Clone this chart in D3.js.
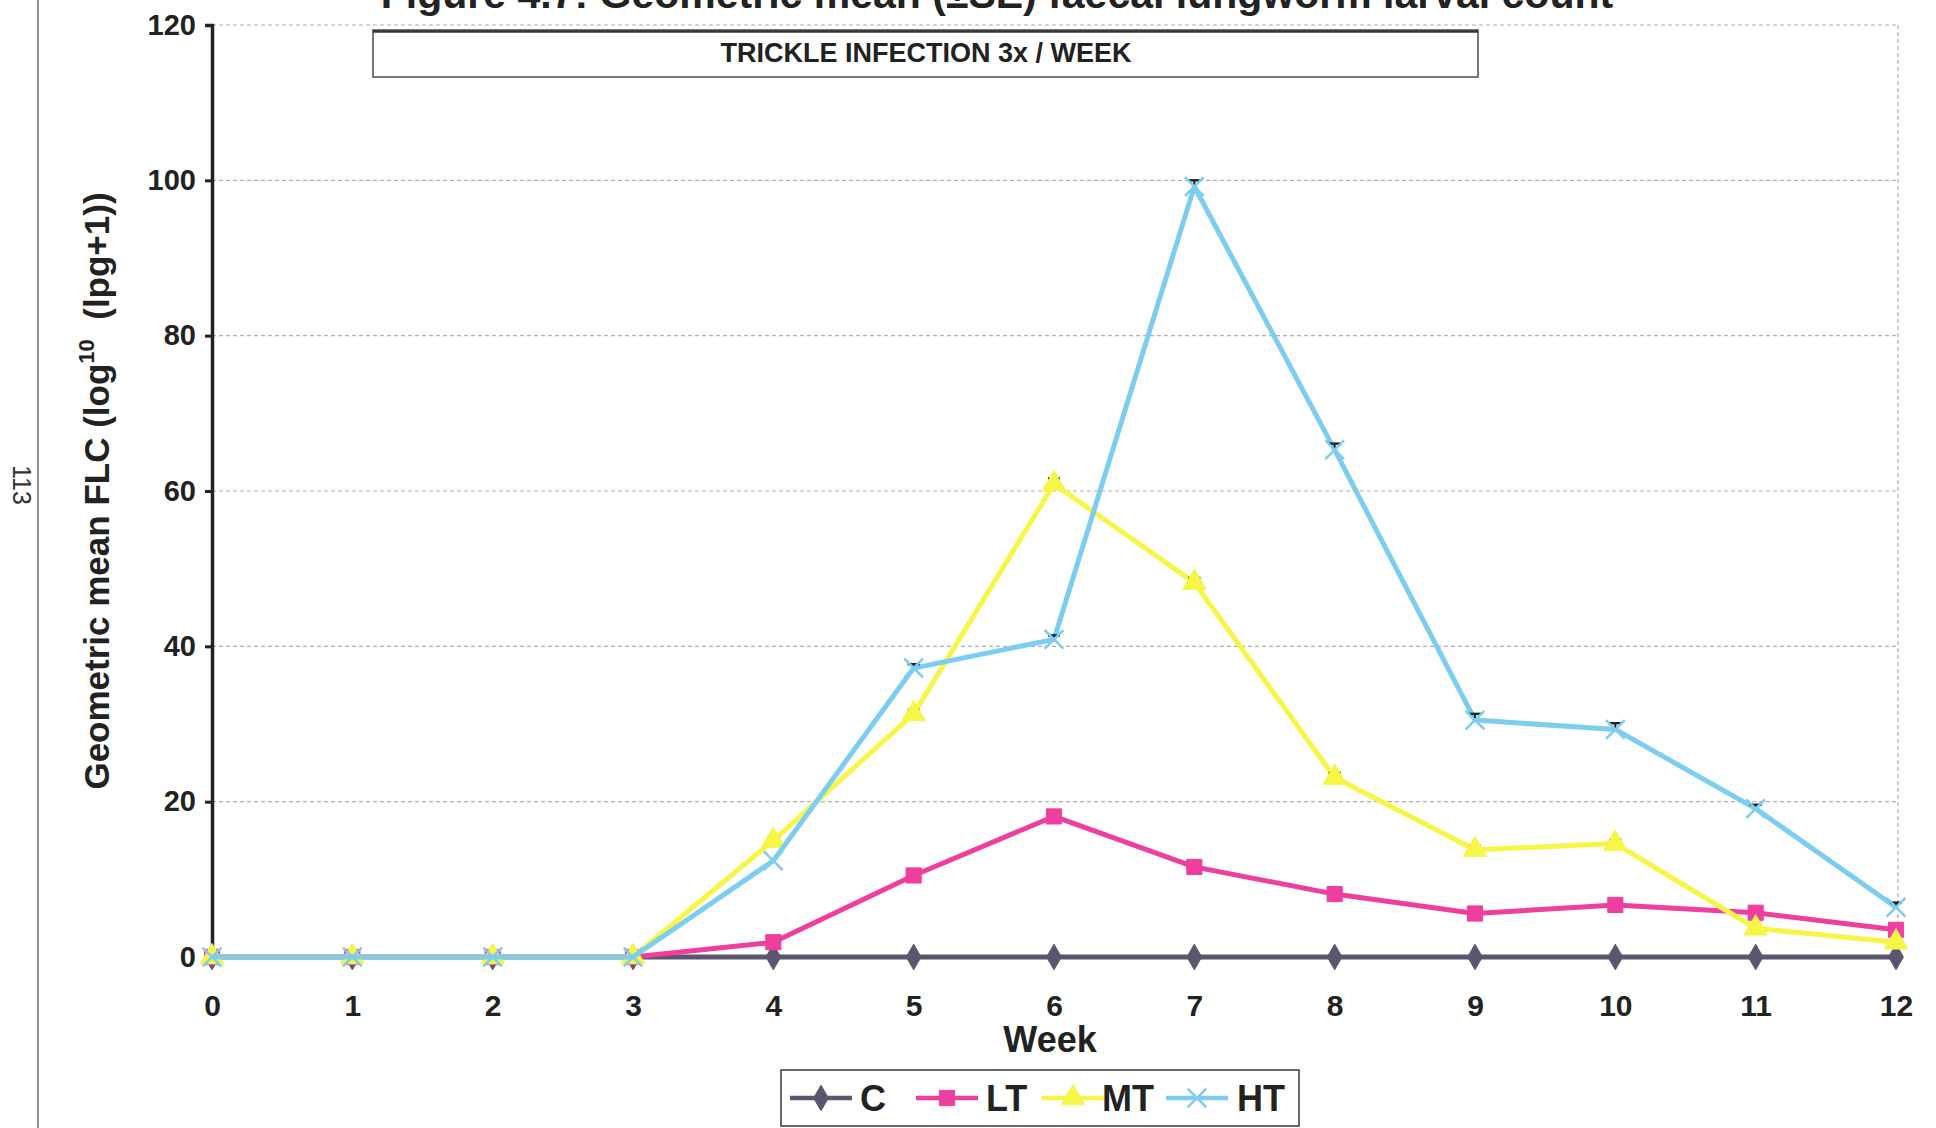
<!DOCTYPE html>
<html>
<head>
<meta charset="utf-8">
<script src="https://cdn.jsdelivr.net/npm/d3@7"></script>
<style>
  html, body { margin: 0; padding: 0; background: #fff; }
  svg { display: block; }
  text { font-family: "Liberation Sans", Arial, sans-serif; }
</style>
</head>
<body>
<svg id="chart" width="1936" height="1128"></svg>
<script>
// Weeks after start of trickle infection
const weeks = [0, 1, 2, 3, 4, 5, 6, 7, 8, 9, 10, 11, 12];

// Geometric mean faecal larval count per group
const seriesC  = [0, 0, 0, 0, 0, 0, 0, 0, 0, 0, 0, 0, 0];
const seriesLT = [0, 0, 0, 0, 1.9, 10.5, 18.1, 11.6, 8.1, 5.6, 6.7, 5.7, 3.5];
const seriesMT = [0, 0, 0, 0, 15.0, 31.3, 60.9, 48.2, 23.1, 13.8, 14.6, 3.7, 1.9];
const seriesHT = [0, 0, 0, 0, 12.4, 37.2, 40.9, 99.2, 65.3, 30.5, 29.3, 19.1, 6.4];

// Standard errors (upper bars only)
const seC  = [0, 0, 0, 0, 0, 0, 0, 0, 0, 0, 0, 0, 0];
const seLT = [0, 0, 0, 0, 0, 0, 0, 0, 0, 0, 0, 0, 0];
const seMT = [0, 0, 0, 0, 0.4, 0.5, 0.7, 0.6, 0.6, 0.5, 0.5, 0, 0];
const seHT = [0, 0, 0, 0, 0, 0.5, 0.5, 0.8, 0.8, 0.8, 0.8, 0.5, 0.6];

const yTicks = [0, 20, 40, 60, 80, 100, 120];
const groupNames = ["C", "LT", "MT", "HT"];

const svg = d3.select("#chart");

const x = d3.scaleLinear().domain([0, 12]).range([212, 1896]);
const y = d3.scaleLinear().domain([0, 120]).range([957, 25]);

// Page margin rule and page number from the printed thesis
svg.append("line").attr("x1", 38).attr("x2", 38).attr("y1", 0).attr("y2", 1128)
  .attr("stroke", "#444").attr("stroke-width", 1.2);
svg.append("text")
  .attr("transform", "translate(13,465) rotate(90)")
  .attr("font-family", "'Liberation Serif', 'DejaVu Serif', serif")
  .attr("font-size", 25).attr("fill", "#333")
  .text("113");

// Figure caption, cut by the top of the page
svg.append("text")
  .attr("x", 997).attr("y", 8)
  .attr("text-anchor", "middle")
  .attr("font-size", 41).attr("font-weight", "bold").attr("fill", "#222")
  .text("Figure 4.7: Geometric mean (±SE) faecal lungworm larval count");

// Horizontal gridlines
svg.append("g").selectAll("line")
  .data(yTicks.filter(d => d > 0))
  .join("line")
  .attr("x1", x(0)).attr("x2", 1898)
  .attr("y1", d => y(d)).attr("y2", d => y(d))
  .attr("stroke", "#b5aaac").attr("stroke-width", 1.2)
  .attr("stroke-dasharray", "4,3");

// Right border of plot area
svg.append("line")
  .attr("x1", 1898).attr("x2", 1898).attr("y1", y(120)).attr("y2", y(0))
  .attr("stroke", "#b5aaac").attr("stroke-width", 1.2)
  .attr("stroke-dasharray", "4,3");

// Y axis
const yAxis = d3.axisLeft(y).tickValues(yTicks).tickSize(7).tickPadding(9);
const gy = svg.append("g").attr("transform", `translate(${x(0)},0)`).call(yAxis);
gy.select(".domain").attr("stroke", "#222").attr("stroke-width", 3.5);
gy.selectAll(".tick line").attr("stroke", "#222").attr("stroke-width", 3);
gy.selectAll(".tick text")
  .attr("font-size", 29).attr("font-weight", "bold").attr("fill", "#222")
  .attr("font-family", "'Liberation Sans', Arial, sans-serif");

// X axis labels (no visible axis line: the C series runs along zero)
const xAxis = d3.axisBottom(x).tickValues(weeks).tickFormat(d3.format("d")).tickSize(0).tickPadding(38);
const gx = svg.append("g").attr("transform", `translate(0,${y(0)})`).call(xAxis);
gx.select(".domain").remove();
gx.selectAll(".tick text")
  .attr("font-size", 30).attr("font-weight", "bold").attr("fill", "#222")
  .attr("font-family", "'Liberation Sans', Arial, sans-serif");

// Axis titles
svg.append("text")
  .attr("x", 1050).attr("y", 1052)
  .attr("text-anchor", "middle")
  .attr("font-size", 36).attr("font-weight", "bold").attr("fill", "#222")
  .text("Week");

const ylab = svg.append("text")
  .attr("transform", "translate(109,491) rotate(-90)")
  .attr("text-anchor", "middle")
  .attr("font-size", 35).attr("font-weight", "bold").attr("fill", "#222");
ylab.append("tspan").text("Geometric mean FLC (log");
ylab.append("tspan").attr("dy", -15).attr("font-size", 22).text("10");
ylab.append("tspan").attr("dy", 15).text("\u00a0 (lpg+1))");

// Chart subtitle box
svg.append("rect")
  .attr("x", 373).attr("y", 30).attr("width", 1105).attr("height", 47)
  .attr("fill", "#fff").attr("stroke", "#555").attr("stroke-width", 1.6);
svg.append("line")
  .attr("x1", 373).attr("x2", 1478).attr("y1", 31.5).attr("y2", 31.5)
  .attr("stroke", "#333").attr("stroke-width", 2.5);
svg.append("text")
  .attr("x", 926).attr("y", 62)
  .attr("text-anchor", "middle")
  .attr("font-size", 27).attr("font-weight", "bold").attr("fill", "#222")
  .text("TRICKLE INFECTION 3x / WEEK");

// Series definitions
const groups = [
  { name: groupNames[0], values: seriesC,  se: seC,  color: "#5a566e", symbol: d3.symbolDiamond,  size: 190, stroke: false },
  { name: groupNames[1], values: seriesLT, se: seLT, color: "#ee3f9e", symbol: d3.symbolSquare,   size: 230, stroke: false },
  { name: groupNames[2], values: seriesMT, se: seMT, color: "#f7f545", symbol: d3.symbolTriangle, size: 240, stroke: false },
  { name: groupNames[3], values: seriesHT, se: seHT, color: "#7ccdef", symbol: d3.symbolX,        size: 230, stroke: true }
];

const line = d3.line().x((d, i) => x(weeks[i])).y(d => y(d));

groups.forEach(g => {
  const layer = svg.append("g");
  layer.append("path")
    .datum(g.values)
    .attr("d", line)
    .attr("fill", "none")
    .attr("stroke", g.color)
    .attr("stroke-width", 5)
    .attr("stroke-linejoin", "round");

  // error bars
  layer.selectAll("g.err")
    .data(g.values.map((v, i) => ({ v, se: g.se[i], w: weeks[i] })).filter(d => d.se > 0))
    .join("g")
    .each(function (d) {
      const gg = d3.select(this);
      gg.append("line")
        .attr("x1", x(d.w)).attr("x2", x(d.w))
        .attr("y1", y(d.v)).attr("y2", y(d.v + d.se))
        .attr("stroke", "#222").attr("stroke-width", 2);
      gg.append("line")
        .attr("x1", x(d.w) - 6).attr("x2", x(d.w) + 6)
        .attr("y1", y(d.v + d.se)).attr("y2", y(d.v + d.se))
        .attr("stroke", "#222").attr("stroke-width", 2.5);
    });

  const sym = d3.symbol().type(g.symbol).size(g.size);
  layer.selectAll("path.mk")
    .data(g.values)
    .join("path")
    .attr("class", "mk")
    .attr("transform", (d, i) => `translate(${x(weeks[i])},${y(d)})`)
    .attr("d", sym)
    .attr("fill", g.stroke ? "none" : g.color)
    .attr("stroke", g.color)
    .attr("stroke-width", g.stroke ? 2.5 : 1);
});

// Legend
const legend = svg.append("g");
legend.append("rect")
  .attr("x", 781).attr("y", 1070).attr("width", 518).attr("height", 56)
  .attr("fill", "#fff").attr("stroke", "#444").attr("stroke-width", 1.6);

const legendX = [790, 916, 1042, 1166];
const textX = [860, 986, 1102, 1237];
groups.forEach((g, i) => {
  const cy = 1098;
  legend.append("line")
    .attr("x1", legendX[i]).attr("x2", legendX[i] + 62)
    .attr("y1", cy).attr("y2", cy)
    .attr("stroke", g.color).attr("stroke-width", 4.5);
  legend.append("path")
    .attr("transform", `translate(${legendX[i] + 31},${cy})`)
    .attr("d", d3.symbol().type(g.symbol).size(g.size)())
    .attr("fill", g.stroke ? "none" : g.color)
    .attr("stroke", g.color)
    .attr("stroke-width", g.stroke ? 2.5 : 1);
  legend.append("text")
    .attr("x", textX[i]).attr("y", cy + 13)
    .attr("font-size", 36).attr("font-weight", "bold").attr("fill", "#222")
    .text(g.name);
});
</script>
</body>
</html>
